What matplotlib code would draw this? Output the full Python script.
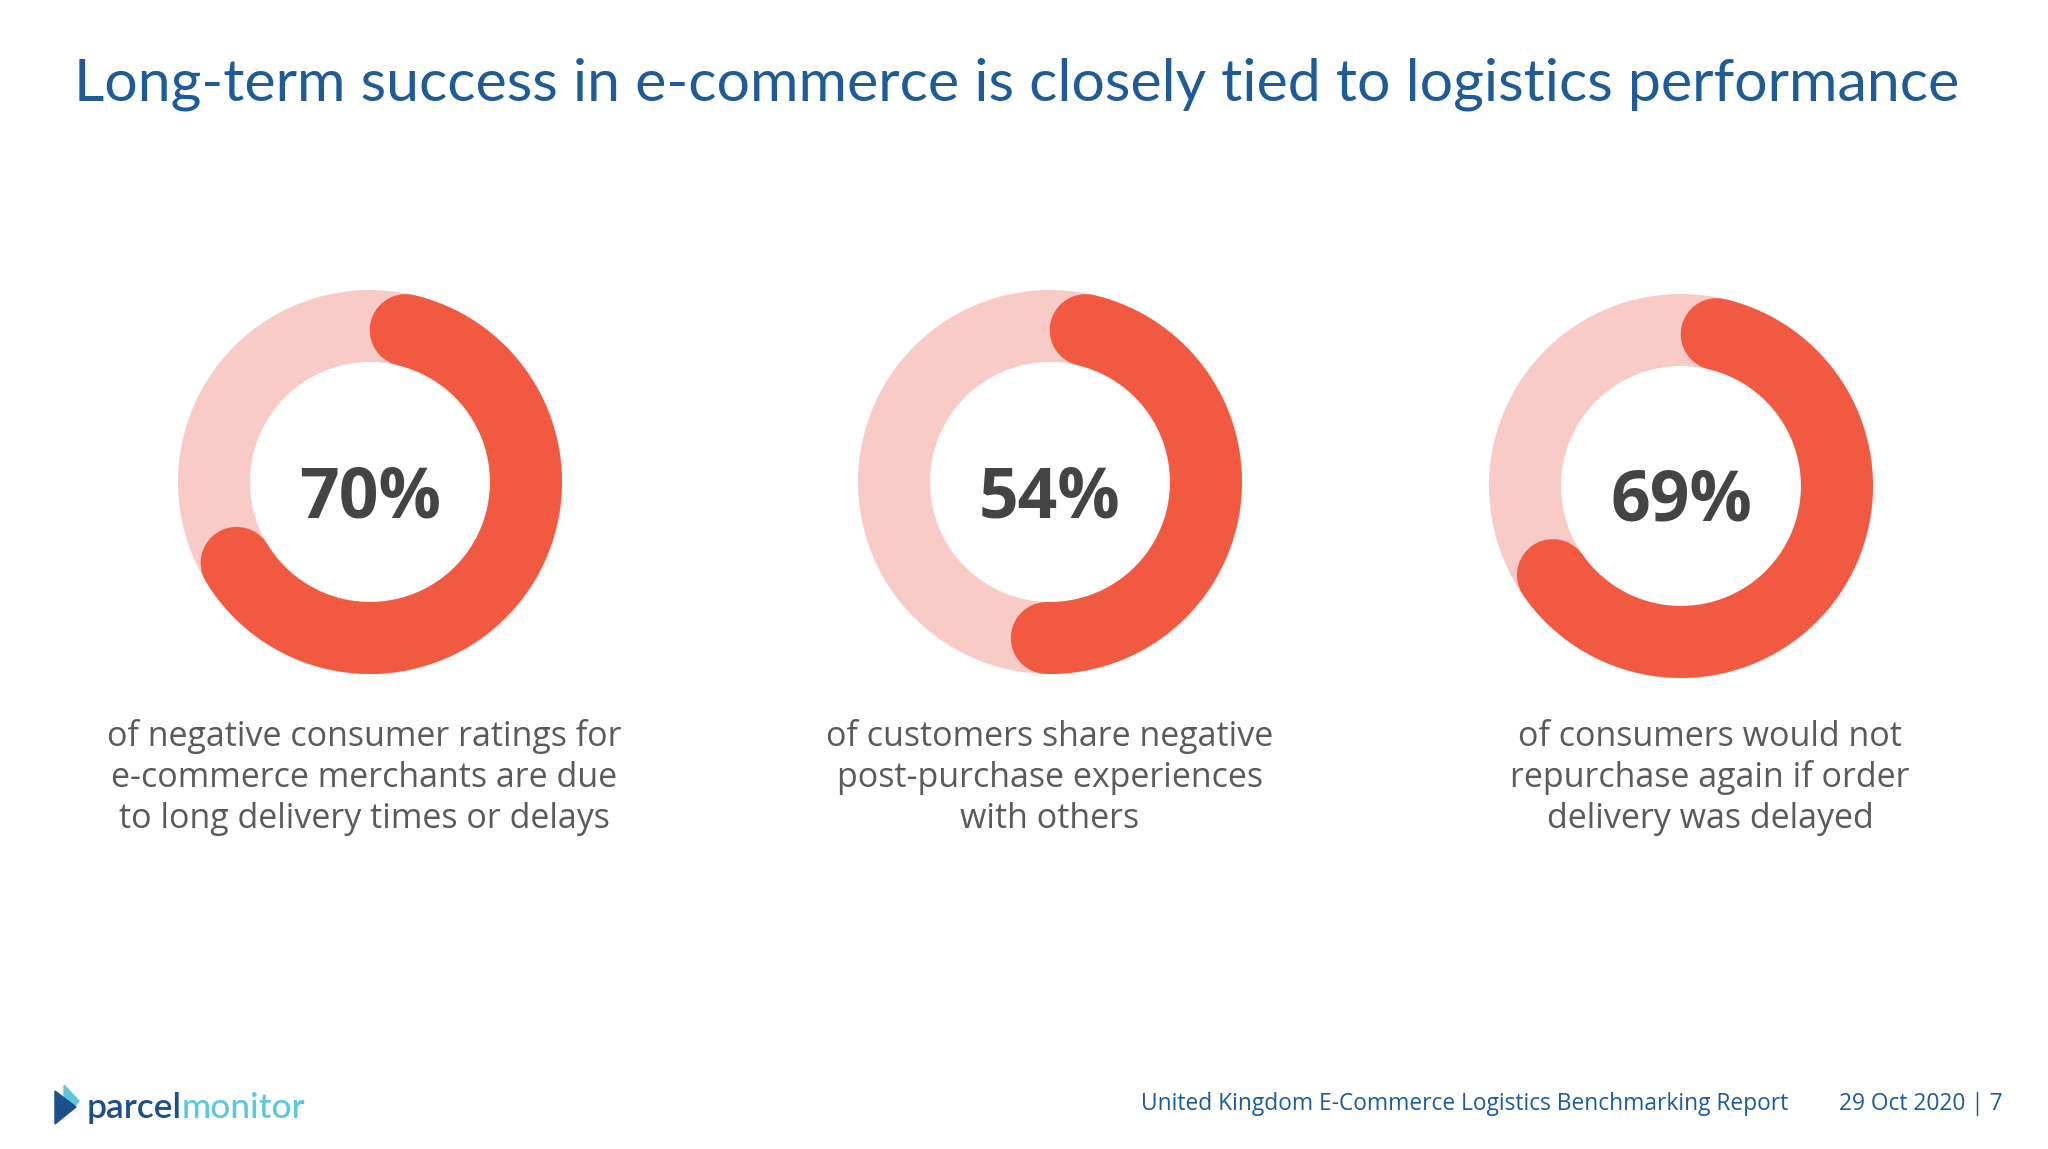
import numpy as np
import matplotlib
matplotlib.use("Agg")
import matplotlib.pyplot as plt
from matplotlib.patches import Polygon

# values
percents = [70, 54, 69]
descriptions = [
    "of negative consumer ratings for\ne-commerce merchants are due\nto long delivery times or delays",
    "of customers share negative\npost-purchase experiences\nwith others",
    "of consumers would not\nrepurchase again if order\ndelivery was delayed",
]
title = "Long-term success in e-commerce is closely tied to logistics performance"
footer_report = "United Kingdom E-Commerce Logistics Benchmarking Report"
footer_date = "29 Oct 2020 | 7"

ARC = "#F15A40"
TRACK = "#F9CBC6"
BLUE = "#1D5B99"
GREY_DARK = "#444444"
GREY_TEXT = "#5A5A5A"

W, H, DPI = 2048, 1149, 100
fig = plt.figure(figsize=(W / DPI, H / DPI), dpi=DPI)
fig.patch.set_facecolor("white")

# donut layout in pixels (centre x, centre y, outer radius)
centers = [(370, 482), (1050, 482), (1681, 486)]
text_cx = [364, 1050, 1710]
R_out = 192
ring_w = 72
r_mid = (R_out - ring_w / 2) / R_out
lw_pt = ring_w * 72 / DPI
cap = (ring_w / 2) / (R_out - ring_w / 2)  # angle taken by a round cap

for (cx, cy), p in zip(centers, percents):
    ax = fig.add_axes([(cx - R_out) / W, 1 - (cy + R_out) / H, 2 * R_out / W, 2 * R_out / H])
    ax.set_xlim(-1, 1)
    ax.set_ylim(-1, 1)
    ax.set_aspect("equal")
    ax.axis("off")

    # full pale track
    ax.pie([1], radius=1, colors=[TRACK], startangle=90,
           wedgeprops=dict(width=ring_w / R_out, linewidth=0))

    # value arc with rounded ends, clockwise from 12 o'clock
    a = np.linspace(cap, 2 * np.pi * p / 100 - cap, 400)
    ax.plot(r_mid * np.sin(a), r_mid * np.cos(a), color=ARC, lw=lw_pt,
            solid_capstyle="round", clip_on=False, zorder=3)
    ax.set_xlim(-1, 1)
    ax.set_ylim(-1, 1)

    ax.text(0, -35 / R_out, f"{p}%", ha="center", va="baseline",
            fontsize=50, fontweight="bold", family="Open Sans", color=GREY_DARK, zorder=4)

# captions under each donut
line_step = 41
for cx, desc in zip(text_cx, descriptions):
    for i, line in enumerate(desc.split("\n")):
        fig.text(cx / W, 1 - (746 + i * line_step) / H, line, ha="center", va="baseline",
                 fontsize=24.5, family="Open Sans", color=GREY_TEXT)

fig.text(1017 / W, 1 - 84 / H, title, ha="center", va="center",
         fontsize=42.5, family="Lato", color=BLUE)

# footer
fig.text(1788 / W, 1 - 1104 / H, footer_report, ha="right", va="center",
         fontsize=16.4, family="Open Sans", color=BLUE)
fig.text(2003 / W, 1 - 1104 / H, footer_date, ha="right", va="center",
         fontsize=16.4, family="Open Sans", color=BLUE)

# parcelmonitor logo
logo_ax = fig.add_axes([0, 0, 1, 1], facecolor="none")
logo_ax.set_xlim(0, W)
logo_ax.set_ylim(H, 0)
logo_ax.axis("off")
logo_ax.add_patch(Polygon([(64, 1085), (79, 1101), (71, 1111), (64, 1101)], color="#5BC8E0"))
logo_ax.add_patch(Polygon([(55, 1091), (76, 1107), (55, 1124)], color="#1C4F8C"))
t1 = logo_ax.text(87, 1118, "parcel", ha="left", va="baseline", fontsize=25.5,
                  family="Lato", fontweight="semibold", color="#1C4F8C")
fig.canvas.draw()
bb = t1.get_window_extent()
x_end = logo_ax.transData.inverted().transform((bb.x1, bb.y0))[0]
logo_ax.text(x_end, 1118, "monitor", ha="left", va="baseline", fontsize=25.5,
             family="Lato", fontweight="medium", color="#5BC8E0")

fig.savefig("out.png", dpi=DPI, facecolor="white")
